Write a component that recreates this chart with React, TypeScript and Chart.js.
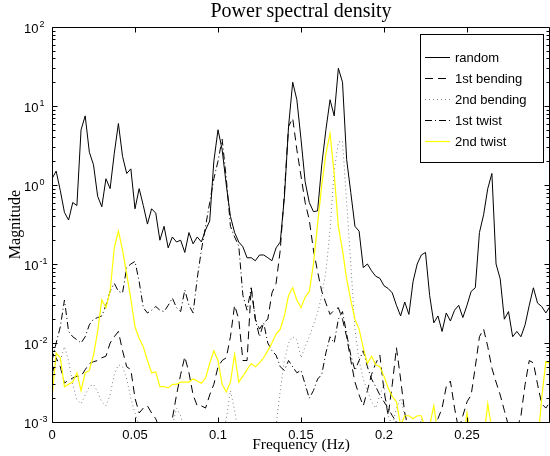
import React, { useEffect, useRef } from "react";
import { Chart, registerables } from "chart.js";

Chart.register(...registerables);

// ---------------- data ----------------
const FREQ_STEP = 0.0025;
const frequency: number[] = Array.from({ length: 121 }, (_, k) => Math.round(k * FREQ_STEP * 1e4) / 1e4);

const random = [
  1.2, 1.5, 0.85, 0.45, 0.36, 0.6, 0.55, 5.0, 7.5, 2.6,
  1.8, 0.72, 0.53, 1.2, 0.9, 2.5, 6.0, 2.3, 1.4, 1.6,
  0.5, 0.9, 0.55, 0.32, 0.5, 0.44, 0.2, 0.3, 0.16, 0.22,
  0.19, 0.2, 0.14, 0.25, 0.18, 0.22, 0.19, 0.27, 0.35, 2.0,
  5.0, 2.8, 1.0, 0.4, 0.25, 0.19, 0.165, 0.12, 0.12, 0.11,
  0.13, 0.13, 0.12, 0.11, 0.16, 0.19, 0.7, 5.5, 20, 12,
  3.8, 1.1, 0.6, 0.46, 0.47, 1.8, 5.0, 12, 7.5, 30,
  20, 2.1, 0.8, 0.3, 0.26, 0.09, 0.1, 0.082, 0.07, 0.066,
  0.053, 0.049, 0.043, 0.03, 0.022, 0.033, 0.023, 0.06, 0.1, 0.13,
  0.14, 0.04, 0.018, 0.022, 0.014, 0.024, 0.019, 0.026, 0.03, 0.021,
  0.03, 0.045, 0.05, 0.25, 0.42, 0.9, 1.4, 0.1, 0.065, 0.02,
  0.025, 0.012, 0.014, 0.012, 0.017, 0.03, 0.05, 0.032, 0.029, 0.024,
  0.029,
];

const firstBending = [
  0.004, 0.0065, 0.005, 0.0031, 0.0034, 0.0036, 0.0038, 0.0038, 0.0046, 0.0055,
  0.0058, 0.006, 0.0065, 0.0068, 0.01, 0.012, 0.014, 0.008, 0.005, 0.0046,
  0.002, 0.0013, 0.0015, 0.0016, 0.0013, 0.0011, 0.0008, 0.0007, 0.0008, 0.0011,
  0.0022, 0.004, 0.0067, 0.0042, 0.0022, 0.0016, 0.0016, 0.0015, 0.0022, 0.003,
  0.005, 0.006, 0.0065, 0.012, 0.03, 0.02, 0.006, 0.006, 0.05, 0.02,
  0.015, 0.018, 0.02, 0.043, 0.057, 0.15, 0.8, 5.5, 7.0, 2.8,
  1.3, 0.6, 0.36, 0.15, 0.08, 0.045, 0.032, 0.023, 0.026, 0.028,
  0.02, 0.012, 0.006, 0.0032, 0.0022, 0.0016, 0.0025, 0.004, 0.0055, 0.007,
  0.0025, 0.0012, 0.003, 0.0087, 0.0035, 0.0013, 0.0008, 0.0006, 0.0005, 0.0006,
  0.0008, 0.0007, 0.0008, 0.0011, 0.0015, 0.0028, 0.0033, 0.0015, 0.0008, 0.0012,
  0.0018, 0.0022, 0.005, 0.012, 0.015, 0.009, 0.0048, 0.0032, 0.0022, 0.0014,
  0.0009, 0.0007, 0.0008, 0.0012, 0.003, 0.006, 0.0056, 0.003, 0.0017, 0.0015,
  0.0018,
];

const secondBending = [
  0.003, 0.006, 0.006, 0.009, 0.006, 0.003, 0.0019, 0.0017, 0.0022, 0.0028,
  0.003, 0.0024, 0.0018, 0.0016, 0.0022, 0.004, 0.0053, 0.005, 0.0035, 0.002,
  0.0013, 0.0009, 0.0007, 0.0006, 0.0005, 0.0005, 0.0006, 0.0005, 0.0006, 0.0009,
  0.0015, 0.0012, 0.0007, 0.0005, 0.0004, 0.0004, 0.0004, 0.0005, 0.0005, 0.0005,
  0.0005, 0.0006, 0.0011, 0.0025, 0.0014, 0.0007, 0.0005, 0.0004, 0.0004, 0.0004,
  0.0004, 0.0004, 0.0005, 0.0006, 0.0009, 0.0025, 0.006, 0.01, 0.012, 0.011,
  0.0065, 0.009, 0.012, 0.017, 0.024, 0.04, 0.08, 0.27, 1.5, 3.5,
  3.6, 0.6, 0.1, 0.015, 0.006, 0.0035, 0.0025, 0.0018, 0.0015, 0.0022,
  0.003, 0.0012, 0.0009, 0.0015, 0.002, 0.0012, 0.0008, 0.0006, 0.0006, 0.0011,
  0.0008, 0.0006, 0.0005, 0.0005, 0.0004, 0.0004, 0.0004, 0.0004, 0.0004, 0.0004,
  0.0004, 0.0004, 0.0004, 0.0004, 0.0004, 0.0004, 0.0004, 0.0004, 0.0004, 0.0004,
  0.0004, 0.0004, 0.0004, 0.0004, 0.0004, 0.0004, 0.0004, 0.0004, 0.0004, 0.0004,
  0.0004,
];

const firstTwist = [
  0.006, 0.01, 0.016, 0.035, 0.014, 0.012, 0.011, 0.01, 0.012, 0.017,
  0.02, 0.021, 0.022, 0.03, 0.045, 0.057, 0.045, 0.043, 0.09, 0.1,
  0.108, 0.06, 0.028, 0.024, 0.026, 0.029, 0.026, 0.025, 0.03, 0.037,
  0.028, 0.025, 0.047, 0.03, 0.024, 0.066, 0.15, 0.3, 0.6, 1.2,
  2.0, 3.8, 1.2, 0.3, 0.22, 0.17, 0.04, 0.026, 0.05, 0.02,
  0.012, 0.018, 0.01, 0.008, 0.007, 0.005, 0.0045, 0.006, 0.005, 0.0042,
  0.0045, 0.003, 0.002, 0.0025, 0.0035, 0.004, 0.0075, 0.012, 0.01, 0.02,
  0.025, 0.013, 0.007, 0.0045, 0.006, 0.008, 0.005, 0.0035, 0.0028, 0.0022,
  0.0018, 0.0015, 0.0012, 0.001, 0.0009, 0.0008, 0.0006, 0.0006, 0.0005, 0.0005,
  0.0006, 0.0008, 0.0006, 0.0005, 0.0005, 0.0005, 0.0005, 0.0005, 0.0005, 0.0005,
  0.0005, 0.0005, 0.0005, 0.0005, 0.0005, 0.0005, 0.0005, 0.0005, 0.0005, 0.0005,
  0.0005, 0.0005, 0.0005, 0.0005, 0.0005, 0.0005, 0.0005, 0.0005, 0.0005, 0.0005,
  0.0005,
];

const secondTwist = [
  0.002, 0.0075, 0.0065, 0.0028, 0.003, 0.0032, 0.0042, 0.0025, 0.0042, 0.0045,
  0.007, 0.014, 0.035, 0.028, 0.045, 0.16, 0.26, 0.15, 0.075, 0.036,
  0.016, 0.0115, 0.009, 0.006, 0.0042, 0.0043, 0.0028, 0.0028, 0.0027, 0.003,
  0.003, 0.0032, 0.0032, 0.0032, 0.0035, 0.0033, 0.0031, 0.0036, 0.0055, 0.008,
  0.006, 0.003, 0.0024, 0.0032, 0.0072, 0.0032, 0.0038, 0.0046, 0.0055, 0.005,
  0.0056, 0.0065, 0.008, 0.01, 0.013, 0.015, 0.022, 0.04, 0.05, 0.035,
  0.028, 0.038, 0.045, 0.1, 0.32, 1.0, 2.5, 4.5, 1.4, 0.3,
  0.15, 0.065, 0.035, 0.02, 0.015, 0.0087, 0.0055, 0.0068, 0.0053, 0.005,
  0.0038, 0.0027, 0.0021, 0.0018, 0.0009, 0.0012, 0.0012, 0.0011, 0.0012, 0.0012,
  0.0008, 0.0009, 0.0016, 0.0007, 0.0005, 0.0005, 0.0005, 0.0005, 0.0005, 0.0005,
  0.0013, 0.0006, 0.0005, 0.0005, 0.0006, 0.0017, 0.0008, 0.0005, 0.0005, 0.0005,
  0.0005, 0.0005, 0.0005, 0.0005, 0.0005, 0.0005, 0.0005, 0.0005, 0.002, 0.0058,
  0.0055,
];

const seriesLabels = ["random", "1st bending", "2nd bending", "1st twist", "2nd twist"];
const seriesValues = [random, firstBending, secondBending, firstTwist, secondTwist];
const seriesColors = ["#000000", "#000000", "#808080", "#000000", "#ffff00"];
const seriesDashes: number[][] = [[], [8, 5], [1, 3], [7, 3, 1, 3], []];
const seriesWidths = [1, 1, 1, 1, 1.2];

const xTickValues = [0, 0.05, 0.1, 0.15, 0.2, 0.25];
const xTickLabels = ["0", "0.05", "0.1", "0.15", "0.2", "0.25"];
const yDecadeExponents = [2, 1, 0, -1, -2, -3];
const titleText = "Power spectral density";
const xAxisTitle = "Frequency (Hz)";
const yAxisTitle = "Magnitude";

const SANS = '"Liberation Sans", Arial, Helvetica, sans-serif';
const SERIF = '"Liberation Serif", "Times New Roman", Times, serif';

const matlabAxes = {
  id: "matlabAxes",
  afterDraw(chart: any) {
    const { ctx, chartArea: a, scales } = chart;
    const xs = scales.x;
    const ys = scales.y;
    const L = Math.round(a.left) + 0.5;
    const R = Math.round(a.right) - 0.5;
    const T = Math.round(a.top) + 0.5;
    const B = Math.round(a.bottom) + 0.5;
    ctx.save();
    ctx.setLineDash([]);
    ctx.strokeStyle = "#000";
    ctx.lineWidth = 1;
    // box
    ctx.beginPath();
    ctx.rect(L, T, R - L, B - T);
    ctx.stroke();

    // x ticks
    ctx.beginPath();
    xTickValues.forEach((v) => {
      const px = Math.round(xs.getPixelForValue(v)) + 0.5;
      ctx.moveTo(px, B);
      ctx.lineTo(px, B - 5);
      ctx.moveTo(px, T);
      ctx.lineTo(px, T + 5);
    });
    // y ticks (major + minor)
    yDecadeExponents.forEach((e) => {
      const py = Math.round(ys.getPixelForValue(Math.pow(10, e))) + 0.5;
      ctx.moveTo(L, py);
      ctx.lineTo(L + 5, py);
      ctx.moveTo(R, py);
      ctx.lineTo(R - 5, py);
      if (e < 2) {
        for (let m = 2; m <= 9; m++) {
          const pm = Math.round(ys.getPixelForValue(m * Math.pow(10, e))) + 0.5;
          ctx.moveTo(L, pm);
          ctx.lineTo(L + 3, pm);
          ctx.moveTo(R, pm);
          ctx.lineTo(R - 3, pm);
        }
      }
    });
    ctx.stroke();

    // tick labels
    ctx.fillStyle = "#000";
    ctx.font = `13px ${SANS}`;
    ctx.textAlign = "center";
    ctx.textBaseline = "alphabetic";
    xTickValues.forEach((v, i) => {
      ctx.fillText(xTickLabels[i], xs.getPixelForValue(v), 439);
    });
    yDecadeExponents.forEach((e) => {
      const py = ys.getPixelForValue(Math.pow(10, e));
      ctx.font = `13px ${SANS}`;
      ctx.textAlign = "right";
      ctx.fillText("10", 38.5, py + 5.5);
      ctx.font = `9px ${SANS}`;
      ctx.textAlign = "left";
      ctx.fillText(String(e), 39.5, py - 0.5);
    });

    // title and axis titles
    ctx.textAlign = "center";
    ctx.font = `20px ${SERIF}`;
    const cx = (a.left + a.right) / 2;
    ctx.fillText(titleText, cx, 17);
    ctx.font = `15.5px ${SERIF}`;
    ctx.fillText(xAxisTitle, cx, 449);
    ctx.save();
    ctx.translate(20, (a.top + a.bottom) / 2);
    ctx.rotate(-Math.PI / 2);
    ctx.font = `16px ${SERIF}`;
    ctx.fillText(yAxisTitle, 0, 0);
    ctx.restore();

    // legend
    const lx = 420.5, ly = 34.5, lw = 123, lh = 128;
    ctx.fillStyle = "#fff";
    ctx.fillRect(lx, ly, lw, lh);
    ctx.strokeStyle = "#000";
    ctx.lineWidth = 1;
    ctx.strokeRect(lx, ly, lw, lh);
    const rows = [57, 78, 99, 120, 141];
    seriesLabels.forEach((lab, i) => {
      const yy = rows[i] + 0.5;
      ctx.beginPath();
      ctx.setLineDash(seriesDashes[i]);
      ctx.strokeStyle = seriesColors[i];
      ctx.lineWidth = seriesWidths[i];
      ctx.moveTo(425, yy);
      ctx.lineTo(450, yy);
      ctx.stroke();
      ctx.setLineDash([]);
      ctx.lineWidth = 1;
      ctx.fillStyle = "#000";
      ctx.font = `13px ${SANS}`;
      ctx.textAlign = "left";
      ctx.textBaseline = "middle";
      ctx.fillText(lab, 455, rows[i] + 1);
    });
    ctx.restore();
  },
};

export default function App() {
  const ref = useRef<HTMLCanvasElement>(null);
  useEffect(() => {
    const datasets = seriesValues.map((vals, i) => ({
      label: seriesLabels[i],
      data: vals.map((v, k) => ({ x: frequency[k], y: v })),
      borderColor: seriesColors[i],
      borderDash: seriesDashes[i],
      borderWidth: seriesWidths[i],
      pointRadius: 0,
      fill: false,
      tension: 0,
      order: 5 - i,
    }));
    const chart = new Chart(ref.current as HTMLCanvasElement, {
      type: "line",
      data: { datasets },
      options: {
        animation: false,
        responsive: false,
        maintainAspectRatio: false,
        layout: { padding: { left: 52, right: 0, top: 27, bottom: 34 } },
        plugins: {
          legend: { display: false },
          title: { display: false },
          tooltip: { enabled: false },
        },
        scales: {
          x: { type: "linear", min: 0, max: 0.3, display: false },
          y: { type: "logarithmic", min: 0.001, max: 100, display: false },
        },
      },
      plugins: [matlabAxes],
    } as any);
    return () => chart.destroy();
  }, []);
  return (
    <div style={{ position: "fixed", left: 0, top: 0, width: 550, height: 456, background: "#fff" }}>
      <canvas ref={ref} width={550} height={456} style={{ display: "block" }} />
    </div>
  );
}
